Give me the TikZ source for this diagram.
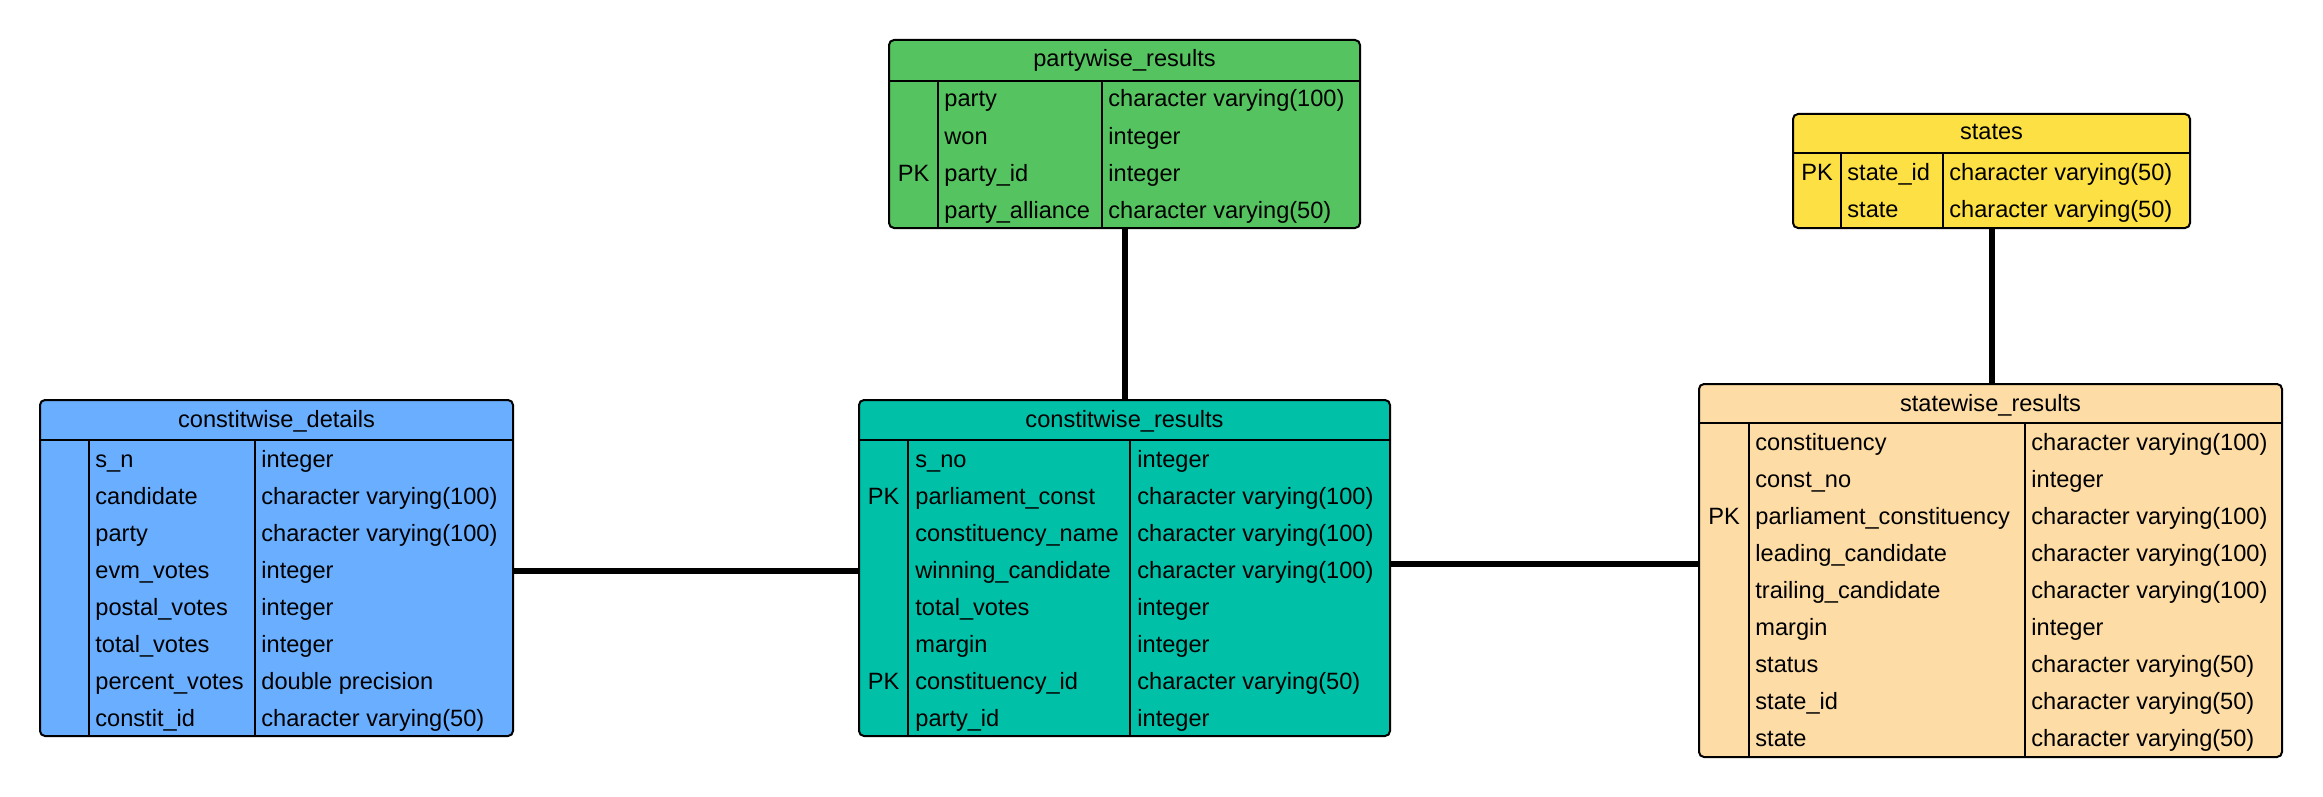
\documentclass[tikz,border=0pt]{standalone}
\usepackage{fontspec}
\setmainfont{Liberation Sans}
\definecolor{cgreen}{HTML}{55C460}
\definecolor{cyellow}{HTML}{FDE144}
\definecolor{cblue}{HTML}{6AAFFF}
\definecolor{cteal}{HTML}{00C0A8}
\definecolor{cpeach}{HTML}{FDDCA6}
\newcommand\erdrows[5]{%
  \foreach \nm/\ty [count=\i] in {#5} {
    \node[txt] (#1-n\i) at (#2, {#4+37*(\i-1)}) {\nm};
    \node[txt] (#1-t\i) at (#3, {#4+37*(\i-1)}) {\ty};
  }}
\begin{document}
\begin{tikzpicture}[x=0.5pt,y=-0.5pt,
  tbl/.style={draw=black, line width=1pt, rounded corners=2.5pt, inner sep=0pt, outer sep=0pt, anchor=north west},
  txt/.style={inner sep=0pt, anchor=base west, font=\fontsize{11.8pt}{14pt}\selectfont},
  ttl/.style={inner sep=0pt, anchor=base, font=\fontsize{11.8pt}{14pt}\selectfont},
  gridline/.style={line width=1pt},
  link/.style={line width=3pt}]
\useasboundingbox (0,0) rectangle (2323,797);

% partywise_results
\node[tbl, fill=cgreen, minimum width=235.5pt, minimum height=94pt] (pw) at (889,40) {};
\draw[gridline] (889,81) -- (1360,81) (938,81) -- (938,228) (1102,81) -- (1102,228);
\node[ttl] (pw-title) at (1124.5,67) {partywise\_results};
\node[ttl] (pw-pk) at (913.5,181) {PK};
\erdrows{pw}{944}{1108}{107}{party/character varying(100), won/integer, party\_id/integer, party\_alliance/character varying(50)}

% states
\node[tbl, fill=cyellow, minimum width=198.5pt, minimum height=57pt] (st) at (1793,114) {};
\draw[gridline] (1793,153) -- (2190,153) (1841,153) -- (1841,228) (1943,153) -- (1943,228);
\node[ttl] (st-title) at (1991.5,140) {states};
\node[ttl] (st-pk) at (1817,180) {PK};
\erdrows{st}{1847}{1949}{180}{state\_id/character varying(50), state/character varying(50)}

% constitwise_details
\node[tbl, fill=cblue, minimum width=236.5pt, minimum height=168pt] (cd) at (40,400) {};
\draw[gridline] (40,440) -- (513,440) (89,440) -- (89,736) (255,440) -- (255,736);
\node[ttl] (cd-title) at (276.5,427) {constitwise\_details};
\erdrows{cd}{95}{261}{467}{s\_n/integer, candidate/character varying(100), party/character varying(100), evm\_votes/integer, postal\_votes/integer, total\_votes/integer, percent\_votes/double precision, constit\_id/character varying(50)}

% constitwise_results
\node[tbl, fill=cteal, minimum width=265.5pt, minimum height=168pt] (cr) at (859,400) {};
\draw[gridline] (859,440) -- (1390,440) (908,440) -- (908,736) (1130,440) -- (1130,736);
\node[ttl] (cr-title) at (1124.5,427) {constitwise\_results};
\node[ttl] (cr-pk1) at (883.5,504) {PK};
\node[ttl] (cr-pk2) at (883.5,689) {PK};
\erdrows{cr}{915}{1137}{467}{s\_no/integer, parliament\_const/character varying(100), constituency\_name/character varying(100), winning\_candidate/character varying(100), total\_votes/integer, margin/integer, constituency\_id/character varying(50), party\_id/integer}

% statewise_results
\node[tbl, fill=cpeach, minimum width=291.5pt, minimum height=186.5pt] (sw) at (1699,384) {};
\draw[gridline] (1699,423) -- (2282,423) (1749,423) -- (1749,757) (2025,423) -- (2025,757);
\node[ttl] (sw-title) at (1990.5,411) {statewise\_results};
\node[ttl] (sw-pk) at (1724,524) {PK};
\erdrows{sw}{1755}{2031}{450}{constituency/character varying(100), const\_no/integer, parliament\_constituency/character varying(100), leading\_candidate/character varying(100), trailing\_candidate/character varying(100), margin/integer, status/character varying(50), state\_id/character varying(50), state/character varying(50)}

% connectors
\draw[link] (pw.south) -- (cr.north);
\draw[link] (st.south) -- (st.south |- sw.north);
\draw[link] ([yshift=-1.5pt]cd.east) -- ([yshift=-1.5pt]cd.east -| cr.west);
\draw[link] ([yshift=2pt]cr.east) -- ([yshift=2pt]cr.east -| sw.west);
\end{tikzpicture}
\end{document}
